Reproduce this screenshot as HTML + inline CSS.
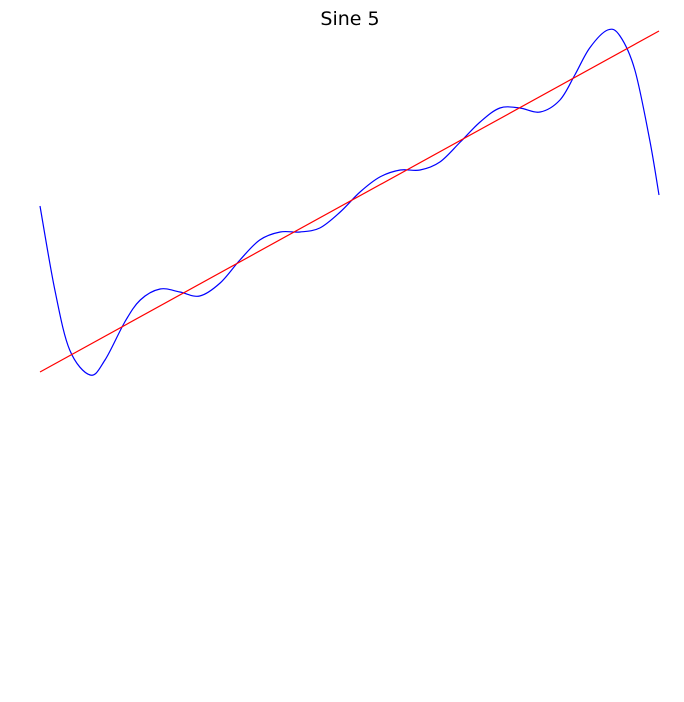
<!DOCTYPE html>
<html><head><meta charset="utf-8">
<style>
html,body{margin:0;padding:0;background:#fff;}
svg{display:block;}
</style></head>
<body>
<svg id="chart" width="684" height="702" xmlns="http://www.w3.org/2000/svg">
<text x="350" y="25" text-anchor="middle" font-family="DejaVu Sans, Liberation Sans, sans-serif" font-size="19" fill="#000">Sine 5</text>
</svg>
<script>
const curveX = [0,2.4,4.8,8.1,10.5,13.7,16.2,19.4,22.6,25.8,29.1,32.3,35.5,38.8,42.0,45.2,48.5,51.7,54.9,58.2,61.4,64.6,67.9,71.1,74.3,77.5,80.8,84.0,86.4,88.8,91.7,93.7,96.1,98.5,100];
const curveY = [19.4,11.0,5.0,2.5,4.0,7.8,10.0,11.1,10.8,10.4,11.7,14.0,16.0,16.8,16.8,17.2,18.8,20.8,22.3,23.0,23.0,23.8,25.8,27.8,29.2,29.2,28.8,30.0,32.5,35.2,37.0,36.4,33.0,26.0,20.5];
const lineX = [0,100];
const lineY = [2.8,36.9];

function xScale(t){ return 40 + t*6.19; }
function yScale(v){ return 400 - v*10; }

const svg = document.getElementById('chart');
const NS = 'http://www.w3.org/2000/svg';

const pts = curveX.map((x,i)=>[xScale(x), yScale(curveY[i])]);
let d = 'M' + pts[0][0] + ',' + pts[0][1];
for (let i=0;i<pts.length-1;i++){
  const p0 = pts[Math.max(0,i-1)], p1 = pts[i], p2 = pts[i+1], p3 = pts[Math.min(pts.length-1,i+2)];
  const c1 = [p1[0]+(p2[0]-p0[0])/6, p1[1]+(p2[1]-p0[1])/6];
  const c2 = [p2[0]-(p3[0]-p1[0])/6, p2[1]-(p3[1]-p1[1])/6];
  d += ' C' + c1[0] + ',' + c1[1] + ' ' + c2[0] + ',' + c2[1] + ' ' + p2[0] + ',' + p2[1];
}
const curve = document.createElementNS(NS,'path');
curve.setAttribute('d', d);
curve.setAttribute('fill','none');
curve.setAttribute('stroke','#0000ff');
curve.setAttribute('stroke-width','1.2');


svg.appendChild(curve);

const line = document.createElementNS(NS,'polyline');
line.setAttribute('points', lineX.map((x,i)=>xScale(x)+','+yScale(lineY[i])).join(' '));
line.setAttribute('fill','none');
line.setAttribute('stroke','#ff0000');
line.setAttribute('stroke-width','1.2');


svg.appendChild(line);
</script>
</body></html>
